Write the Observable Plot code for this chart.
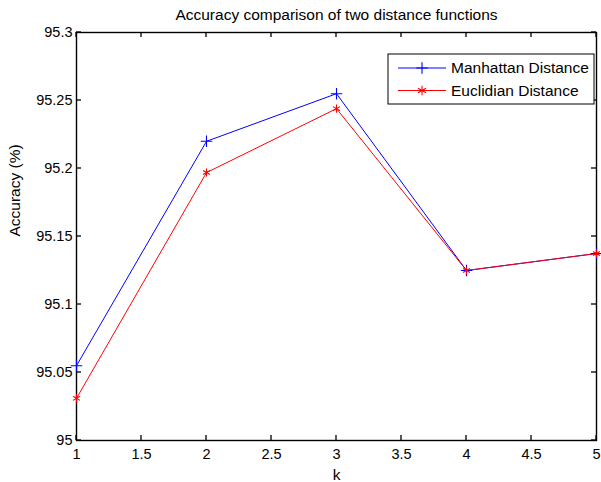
<!DOCTYPE html>
<html>
<head>
<meta charset="utf-8">
<script src="https://cdn.jsdelivr.net/npm/d3@7"></script>
<script src="https://cdn.jsdelivr.net/npm/@observablehq/plot@0.6"></script>
<style>
  body { margin: 0; background: #fff; }
  #chart { position: relative; width: 601px; height: 482px; }
</style>
</head>
<body>
<div id="chart"></div>
<script>
const kValues = [1, 2, 3, 4, 5];
const manhattan = [95.055, 95.22, 95.255, 95.125, 95.1375];
const euclidian = [95.031, 95.197, 95.244, 95.125, 95.1375];
const seriesNames = ["Manhattan Distance", "Euclidian Distance"];
const seriesColors = ["#0000ff", "#ff0000"];
const seriesSymbols = ["plus", "asterisk"];
const xTicks = [1, 1.5, 2, 2.5, 3, 3.5, 4, 4.5, 5];
const xTickLabels = ["1", "1.5", "2", "2.5", "3", "3.5", "4", "4.5", "5"];
const yTicks = [95, 95.05, 95.1, 95.15, 95.2, 95.25, 95.3];
const yTickLabels = ["95", "95.05", "95.1", "95.15", "95.2", "95.25", "95.3"];
const titleText = ["Accuracy comparison of two distance functions"];
const xLabel = ["k"];
const yLabel = ["Accuracy (%)"];

const rows = [];
[manhattan, euclidian].forEach((vals, s) =>
  vals.forEach((v, i) => rows.push({k: kValues[i], acc: v, series: seriesNames[s]}))
);

const font = "'Liberation Sans', Arial, Helvetica, sans-serif";
const W = 601, H = 482, mL = 76, mR = 5, mT = 32, mB = 42;
const tickLen = 5;

const plot = Plot.plot({
  width: W,
  height: H,
  marginLeft: mL,
  marginRight: mR,
  marginTop: mT,
  marginBottom: mB,
  style: {fontFamily: font, fontSize: "14.5px", color: "#000", background: "#fff"},
  x: {domain: [1, 5]},
  y: {domain: [95, 95.3]},
  color: {domain: seriesNames, range: seriesColors},
  symbol: {domain: seriesNames, range: seriesSymbols},
  marks: [
    Plot.frame({stroke: "#000", strokeWidth: 1.4}),
    Plot.axisX(xTicks, {anchor: "bottom", tickSize: 0, tickPadding: 8, label: null,
      tickFormat: (d, i) => xTickLabels[i]}),
    Plot.axisY(yTicks, {anchor: "left", tickSize: 0, tickPadding: 4, label: null,
      tickFormat: (d, i) => yTickLabels[i]}),
    Plot.text(titleText, {text: d => d, frameAnchor: "top", dy: -24, fontSize: 15.5}),
    Plot.text(xLabel, {text: d => d, frameAnchor: "bottom", dy: 39, fontSize: 15.5}),
    Plot.text(yLabel, {text: d => d, frameAnchor: "left", rotate: -90, dx: -61, fontSize: 15.5}),
    Plot.line(rows, {x: "k", y: "acc", z: "series", stroke: "series", strokeWidth: 1}),
    Plot.dot(rows, {x: "k", y: "acc", stroke: "series", symbol: "series", r: 3.8, strokeWidth: 1.1})
  ]
});

document.getElementById("chart").appendChild(plot);

const svg = d3.select(plot);

// Inward ticks on all four sides (MATLAB box style), positioned by Plot's own scales
try {
  const xs = plot.scale("x"), ys = plot.scale("y");
  const frameTop = mT, frameBottom = H - mB, frameLeft = mL, frameRight = W - mR;
  const tg = svg.append("g").attr("stroke", "#000").attr("stroke-width", 1.3);
  xTicks.forEach(v => {
    const px = xs.apply(v);
    tg.append("line").attr("x1", px).attr("x2", px).attr("y1", frameBottom).attr("y2", frameBottom - tickLen);
    tg.append("line").attr("x1", px).attr("x2", px).attr("y1", frameTop).attr("y2", frameTop + tickLen);
  });
  yTicks.forEach(v => {
    const py = ys.apply(v);
    tg.append("line").attr("y1", py).attr("y2", py).attr("x1", frameLeft).attr("x2", frameLeft + tickLen);
    tg.append("line").attr("y1", py).attr("y2", py).attr("x1", frameRight).attr("x2", frameRight - tickLen);
  });
} catch (e) { console.error(e); }

// Legend (MATLAB-style boxed legend in the upper right)
const lg = svg.append("g").attr("font-family", font).attr("font-size", 15.5).attr("text-anchor", "start");
lg.append("rect")
  .attr("x", 388).attr("y", 54).attr("width", 206).attr("height", 50)
  .attr("fill", "#fff").attr("stroke", "#000").attr("stroke-width", 1);
const symbolTypes = {plus: d3.symbolPlus, asterisk: d3.symbolAsterisk};
const symbolSizes = {plus: 45, asterisk: 60};
seriesNames.forEach((name, i) => {
  const cy = 68 + i * 22.5;
  lg.append("line").attr("x1", 398).attr("x2", 446).attr("y1", cy).attr("y2", cy)
    .attr("stroke", seriesColors[i]).attr("stroke-width", 1);
  lg.append("path")
    .attr("d", d3.symbol(symbolTypes[seriesSymbols[i]], symbolSizes[seriesSymbols[i]])())
    .attr("transform", `translate(422,${cy})`)
    .attr("fill", "none").attr("stroke", seriesColors[i]).attr("stroke-width", 1.1);
  lg.append("text").attr("x", 451).attr("y", cy).attr("dy", "0.35em")
    .attr("fill", "#000").text(name);
});
</script>
</body>
</html>
